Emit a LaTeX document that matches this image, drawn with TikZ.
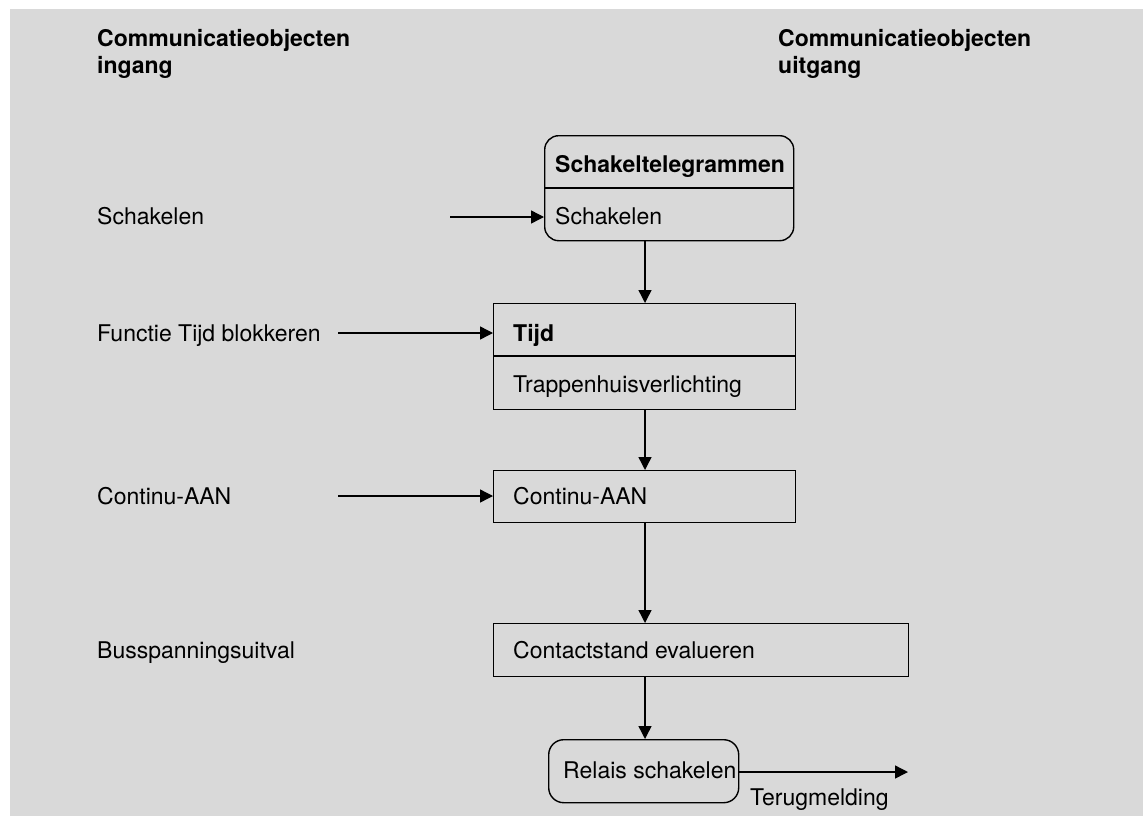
\documentclass[tikz,border=0pt]{standalone}
\usepackage{fontspec}
\setmainfont{TeX Gyre Heros}
\usetikzlibrary{arrows.meta}
\definecolor{bg}{RGB}{217,217,217}
\begin{document}
\begin{tikzpicture}[x=1pt,y=-1pt,
 txt/.style={anchor=base west, inner sep=0pt, font=\fontsize{23}{27}\selectfont},
 btxt/.style={anchor=base west, inner sep=0pt, font=\fontsize{23}{27}\selectfont\bfseries},
 box/.style={draw, line width=1.4pt, inner sep=0pt, anchor=north west},
 arr/.style={line width=1.4pt, -{Triangle[length=13pt,width=13pt]}},
 ln/.style={line width=1.4pt}]
\useasboundingbox (0,0) rectangle (1147,816);
\fill[bg] (10,9) rectangle (1143,816);
% headings
\node[btxt] (h1a) at (97,47) {Communicatieobjecten};
\node[btxt] (h1b) at (97,74) {ingang};
\node[btxt] (h2a) at (778,47) {Communicatieobjecten};
\node[btxt] (h2b) at (778,74) {uitgang};
% left labels
\node[txt] (l1) at (97,224) {Schakelen};
\node[txt] (l2) at (97,341) {Functie Tijd blokkeren};
\node[txt] (l3) at (97,504) {Continu-AAN};
\node[txt] (l4) at (97,658) {Busspanningsuitval};
% boxes
\node[box, rounded corners=14pt, minimum width=249pt, minimum height=105pt] (st) at (544,135) {};
\node[box, minimum width=302pt, minimum height=106pt] (tij) at (493,303) {};
\node[box, minimum width=302pt, minimum height=52pt] (con) at (493,470) {};
\node[box, minimum width=415pt, minimum height=53pt] (eva) at (493,623) {};
\node[box, rounded corners=15pt, minimum width=190pt, minimum height=63pt] (rel) at (548,739) {};
% dividers
\coordinate (d1) at (0,188);
\coordinate (d2) at (0,356);
\draw[ln] (st.west |- d1) -- (st.east |- d1);
\draw[ln] (tij.west |- d2) -- (tij.east |- d2);
% box texts
\node[btxt] (t1) at (555,172) {Schakeltelegrammen};
\node[txt] (t2) at (555,224) {Schakelen};
\node[btxt] (t3) at (513,341) {Tijd};
\node[txt] (t4) at (513,392) {Trappenhuisverlichting};
\node[txt] (t5) at (513,504) {Continu-AAN};
\node[txt] (t6) at (513,658) {Contactstand evalueren};
\node[txt] (t7) at (563,778) {Relais schakelen};
\node[txt] (t8) at (750,805) {Terugmelding};
% input arrows
\coordinate (a1) at (450,217);
\coordinate (a2) at (338,333);
\coordinate (a3) at (338,496);
\draw[arr] (a1) -- (a1 -| st.west);
\draw[arr] (a2) -- (a2 -| tij.west);
\draw[arr] (a3) -- (a3 -| con.west);
% vertical arrows
\coordinate (vx) at (645,0);
\draw[arr] (st.south -| vx) -- (tij.north -| vx);
\draw[arr] (tij.south -| vx) -- (con.north -| vx);
\draw[arr] (con.south -| vx) -- (eva.north -| vx);
\draw[arr] (eva.south -| vx) -- (rel.north -| vx);
% output arrow
\coordinate (tm) at (908,772);
\draw[arr] (rel.east |- tm) -- (tm);
\end{tikzpicture}
\end{document}
